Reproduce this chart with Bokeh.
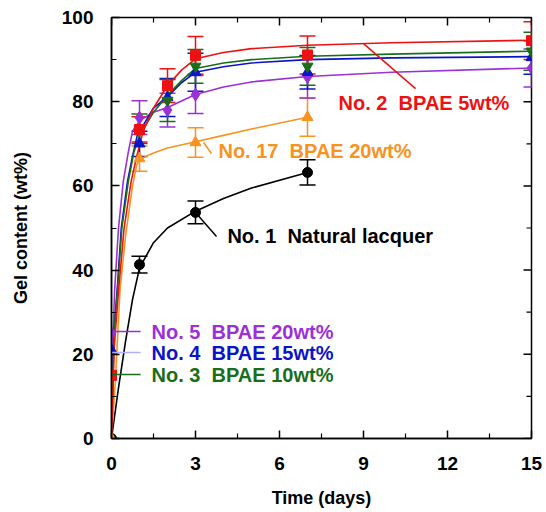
import math
from bokeh.plotting import figure
from bokeh.models import (Range1d, FixedTicker, Whisker, TeeHead, ColumnDataSource)
from bokeh.core.properties import value
from bokeh.embed import file_html
from bokeh.resources import INLINE

FONT = "Liberation Sans"

# ---- measured data (time in days, gel content in wt%) ----
DAYS_A = [0, 1, 3, 7]            # No.1 and No.17
DAYS_B = [0, 1, 2, 3, 7, 15]     # No.2 - No.5

NO1_GEL = [0, 41.3, 53.7, 63.2]
NO1_ERR = [0, 2.0, 2.7, 3.0]
NO17_GEL = [0, 66.5, 70.3, 76.3]
NO17_ERR = [0, 3.0, 3.5, 4.5]
NO2_GEL = [15, 73.4, 83.8, 91.0, 91.1, 94.5]
NO2_ERR = [0, 3.0, 4.0, 4.5, 4.5, 4.5]
NO3_GEL = [15, 73.6, 80.3, 88.4, 88.4, 92.0]
NO3_ERR = [0, 3.5, 5.0, 4.0, 4.5, 4.5]
NO4_GEL = [21, 70.0, 81.0, 87.0, 87.0, 90.5]
NO4_ERR = [0, 3.0, 4.5, 4.5, 4.0, 4.0]
NO5_GEL = [25, 76.2, 78.0, 81.7, 85.9, 88.0]
NO5_ERR = [0, 4.0, 4.0, 4.5, 5.0, 4.5]

# ---- fitted curves ----
NO1_FIT_T = [0, 0.25, 0.5, 0.75, 1, 1.5, 2, 3, 4, 5, 7]
NO1_FIT_Y = [0, 12, 23, 33, 40.5, 46.5, 50, 54, 57, 59.5, 63.2]
NO17_FIT_T = [0, 0.15, 0.3, 0.5, 0.75, 0.9, 1, 1.5, 2, 3, 4, 5, 7]
NO17_FIT_Y = [0, 15, 35, 48, 60, 65, 66.3, 67.8, 69, 70.5, 72, 73.5, 76.3]
NO2_FIT_T = [0, 0.1, 0.25, 0.45, 0.7, 0.9, 1.13, 1.5, 2, 2.5, 3, 4, 5, 7, 10, 15]
NO2_FIT_Y = [0, 22, 35, 50, 61, 67, 73, 78.5, 83.8, 87.5, 90.2, 91.7, 92.6, 93.4, 94, 94.6]
NO3_FIT_T = [0, 0.09, 0.21, 0.37, 0.6, 0.8, 1, 1.5, 2, 2.5, 3, 4, 5, 7, 10, 15]
NO3_FIT_Y = [0, 25, 35, 50, 61, 68, 72, 77.5, 81.5, 85, 87.9, 89.2, 90, 90.8, 91.3, 92]
NO4_FIT_T = [0, 0.08, 0.2, 0.35, 0.57, 0.75, 0.92, 1.5, 2, 2.5, 3, 4, 5, 7, 10, 15]
NO4_FIT_Y = [0, 25, 35, 50, 61, 67, 72, 78.5, 81.2, 84.5, 87, 88.3, 89.2, 90, 90.4, 90.7]
NO5_FIT_T = [0, 0.06, 0.11, 0.25, 0.42, 0.6, 0.75, 1, 1.5, 2, 3, 4, 5, 7, 10, 15]
NO5_FIT_Y = [0, 25, 35, 50, 61, 68, 73, 75.5, 77.5, 78.6, 81.7, 83.5, 84.7, 86, 87, 88]

# ---- annotation texts ----
SP = " \u00a0"
LABELS = ["No. 2" + SP + "BPAE 5wt%", "No. 17" + SP + "BPAE 20wt%",
          "No. 1" + SP + "Natural lacquer", "No. 5" + SP + "BPAE 20wt%",
          "No. 4" + SP + "BPAE 15wt%", "No. 3" + SP + "BPAE 10wt%"]

X_TICKS = [0, 3, 6, 9, 12, 15]
X_MINOR = [1.5, 4.5, 7.5, 10.5, 13.5]
Y_TICKS = [0, 20, 40, 60, 80, 100]
Y_MINOR = [10, 30, 50, 70, 90]

C_BLACK = "#000000"
C_ORANGE = "#f7931e"
C_RED = "#ee1111"
C_GREEN = "#1a6e1a"
C_BLUE = "#0a14c8"
C_PURPLE = "#9b30d9"
C_LIGHTBLUE = "#b0b0ff"

p = figure(width=546, height=512,
           x_range=Range1d(X_TICKS[0], X_TICKS[-1]),
           y_range=Range1d(Y_TICKS[0], Y_TICKS[-1]),
           output_backend="svg", toolbar_location=None,
           min_border_left=111, min_border_right=15, min_border_top=17,
           min_border_bottom=74)
p.grid.visible = False
p.outline_line_color = "black"
p.outline_line_width = 1.5
p.background_fill_color = "white"
p.border_fill_color = "white"


def style_axis(ax, ticks, minor):
    ax.ticker = FixedTicker(ticks=ticks, minor_ticks=minor)
    ax.axis_line_color = "black"
    ax.axis_line_width = 1.5
    ax.major_tick_line_color = "black"
    ax.major_tick_line_width = 1.5
    ax.minor_tick_line_color = "black"
    ax.minor_tick_line_width = 1.2
    ax.major_tick_in = 8
    ax.major_tick_out = 0
    ax.minor_tick_in = 5
    ax.minor_tick_out = 0
    ax.major_label_text_font = FONT
    ax.major_label_text_font_style = "bold"
    ax.major_label_text_font_size = "19px"
    ax.major_label_text_color = "black"
    ax.axis_label_text_font = FONT
    ax.axis_label_text_font_style = "bold"
    ax.axis_label_text_font_size = "18px"
    ax.axis_label_text_color = "black"


xa = p.xaxis[0]
ya = p.yaxis[0]
style_axis(xa, X_TICKS, X_MINOR)
style_axis(ya, Y_TICKS, Y_MINOR)
xa.axis_label = "Time (days)"
ya.axis_label = "Gel content (wt%)"
xa.major_label_standoff = 18
xa.axis_label_standoff = 15
ya.major_label_standoff = 18
ya.axis_label_standoff = 28

# inward ticks on the top and right frame edges (half of each dash is clipped by the frame)
top_y = Y_TICKS[-1]
right_x = X_TICKS[-1]
p.scatter(X_TICKS, [top_y] * len(X_TICKS), marker="dash", size=16,
          angle=math.pi / 2, line_color="black", line_width=1.5)
p.scatter(X_MINOR, [top_y] * len(X_MINOR), marker="dash", size=10,
          angle=math.pi / 2, line_color="black", line_width=1.2)
p.scatter([right_x] * len(Y_TICKS), Y_TICKS, marker="dash", size=16,
          line_color="black", line_width=1.5)
p.scatter([right_x] * len(Y_MINOR), Y_MINOR, marker="dash", size=10,
          line_color="black", line_width=1.2)

series = [
    (DAYS_A, NO1_GEL, NO1_ERR, NO1_FIT_T, NO1_FIT_Y, C_BLACK, "circle", 10),
    (DAYS_A, NO17_GEL, NO17_ERR, NO17_FIT_T, NO17_FIT_Y, C_ORANGE, "triangle", 11),
    (DAYS_B, NO5_GEL, NO5_ERR, NO5_FIT_T, NO5_FIT_Y, C_PURPLE, "diamond", 13),
    (DAYS_B, NO4_GEL, NO4_ERR, NO4_FIT_T, NO4_FIT_Y, C_BLUE, "triangle", 11),
    (DAYS_B, NO3_GEL, NO3_ERR, NO3_FIT_T, NO3_FIT_Y, C_GREEN, "inverted_triangle", 11),
    (DAYS_B, NO2_GEL, NO2_ERR, NO2_FIT_T, NO2_FIT_Y, C_RED, "square", 10),
]

for days, gel, err, ft, fy, col, mk, sz in series:
    p.line(ft, fy, line_color=col, line_width=1.6)

for days, gel, err, ft, fy, col, mk, sz in series:
    idx = [i for i, e in enumerate(err) if e > 0]
    src = ColumnDataSource(dict(
        x=[days[i] for i in idx],
        lower=[gel[i] - err[i] for i in idx],
        upper=[gel[i] + err[i] for i in idx]))
    w = Whisker(source=src, base="x", lower="lower", upper="upper",
                line_color=col, line_width=1.5,
                upper_head=TeeHead(size=16, line_color=col, line_width=1.5),
                lower_head=TeeHead(size=16, line_color=col, line_width=1.5))
    p.add_layout(w)

for days, gel, err, ft, fy, col, mk, sz in series:
    p.scatter(days, gel, marker=mk, size=sz, fill_color=col, line_color=col)

# leader lines
p.segment(x0=[9.0, 3.29, 3.0, 0, 0, 0], y0=[93.8, 70.3, 53.7, 25.4, 20.4, 15.2],
          x1=[10.86, 3.57, 3.75, 1.04, 1.04, 1.04], y1=[83.1, 67.7, 48.0, 25.4, 20.4, 15.2],
          line_color=[C_RED, C_ORANGE, C_BLACK, C_PURPLE, C_LIGHTBLUE, C_GREEN],
          line_width=1.5)

lab_src = ColumnDataSource(dict(
    x=[8.11, 3.82, 4.14, 1.43, 1.43, 1.43],
    y=[79.6, 68.4, 48.2, 25.4, 20.4, 15.2],
    text=LABELS,
    color=[C_RED, C_ORANGE, C_BLACK, C_PURPLE, C_BLUE, C_GREEN]))
p.text(x="x", y="y", text="text", source=lab_src, text_color="color",
       text_font=value(FONT), text_font_style="bold", text_font_size="20px",
       text_align="left", text_baseline="middle")

open("out.html", "w").write(file_html(p, INLINE))
